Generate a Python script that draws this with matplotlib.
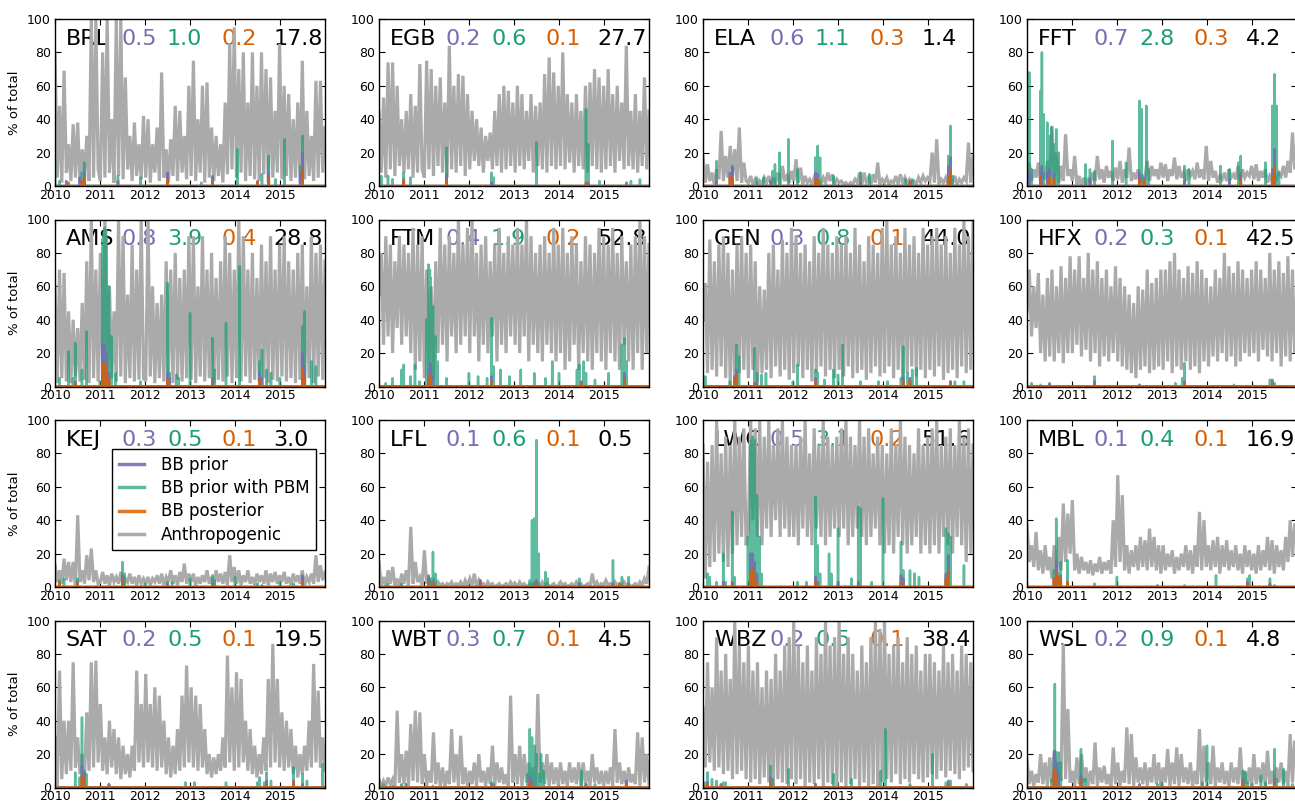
import numpy as np
import matplotlib
matplotlib.use("Agg")
import matplotlib.pyplot as plt
from matplotlib.lines import Line2D

# ---------------- data ----------------
stations = ["BRL", "EGB", "ELA", "FFT", "AMS", "FTM", "GEN", "HFX",
            "KEJ", "LFL", "LWC", "MBL", "SAT", "WBT", "WBZ", "WSL"]
prior_pct = [0.5, 0.2, 0.6, 0.7, 0.8, 0.4, 0.3, 0.2, 0.3, 0.1, 0.5, 0.1, 0.2, 0.3, 0.2, 0.2]
pbm_pct = [1.0, 0.6, 1.1, 2.8, 3.9, 1.9, 0.8, 0.3, 0.5, 0.6, 3.1, 0.4, 0.5, 0.7, 0.5, 0.9]
post_pct = [0.2, 0.1, 0.3, 0.3, 0.4, 0.2, 0.1, 0.1, 0.1, 0.1, 0.2, 0.1, 0.1, 0.1, 0.1, 0.1]
anthro_pct = [17.8, 27.7, 1.4, 4.2, 28.8, 52.8, 44.0, 42.5, 3.0, 0.5, 51.6, 16.9, 19.5, 4.5, 38.4, 4.8]
year_ticks = [2010, 2011, 2012, 2013, 2014, 2015]
legend_labels = ["BB prior", "BB prior with PBM", "BB posterior", "Anthropogenic"]

# anthropogenic share (% of total), 20 readings per year, 2010-2015
BRL_anthro = [80, 5, 48, 2, 69, 8, 25, 3, 37, 5, 38, 2, 22, 4, 30, 3, 100, 5, 100, 10,
              3, 80, 5, 100, 8, 40, 2, 100, 6, 100, 4, 65, 10, 30, 3, 38, 6, 25, 4, 42,
              5, 40, 2, 25, 8, 35, 3, 68, 5, 22, 2, 28, 6, 48, 3, 45, 8, 30, 4, 60,
              6, 75, 3, 40, 8, 60, 2, 62, 5, 35, 3, 30, 6, 25, 2, 50, 7, 85, 10, 95,
              5, 70, 8, 80, 3, 50, 6, 80, 4, 60, 3, 80, 7, 70, 2, 65, 5, 45, 8, 85,
              4, 60, 6, 55, 3, 40, 5, 50, 2, 75, 4, 45, 6, 30, 3, 63, 5, 63, 8, 35]
EGB_anthro = [45, 8, 53, 5, 74, 10, 74, 6, 60, 12, 40, 8, 45, 10, 55, 5, 48, 8, 73, 10,
              5, 75, 10, 70, 6, 60, 12, 65, 8, 50, 5, 84, 10, 60, 8, 67, 12, 66, 6, 55,
              10, 45, 15, 40, 12, 35, 8, 30, 15, 32, 10, 45, 12, 55, 8, 60, 10, 57, 12, 50,
              8, 60, 12, 55, 10, 45, 15, 55, 8, 48, 12, 50, 10, 67, 8, 77, 12, 68, 10, 60,
              12, 80, 10, 55, 14, 50, 8, 55, 12, 45, 10, 60, 8, 62, 12, 70, 10, 65, 8, 60,
              10, 70, 12, 55, 8, 60, 15, 50, 10, 84, 12, 45, 10, 55, 8, 45, 12, 65, 10, 45]
ELA_anthro = [18, 2, 13, 3, 8, 1, 10, 4, 33, 3, 18, 5, 24, 6, 22, 3, 35, 2, 14, 3,
              2, 6, 1, 4, 0, 3, 1, 5, 2, 6, 1, 4, 2, 8, 1, 12, 3, 6, 2, 9,
              3, 16, 2, 11, 1, 6, 2, 4, 1, 5, 2, 3, 1, 5, 2, 8, 3, 7, 1, 4,
              2, 3, 1, 2, 0, 2, 1, 4, 2, 8, 1, 8, 2, 5, 1, 7, 2, 14, 1, 4,
              2, 5, 1, 3, 2, 6, 1, 7, 2, 5, 1, 4, 2, 3, 1, 5, 2, 6, 3, 5,
              3, 20, 2, 28, 1, 4, 2, 5, 1, 3, 2, 6, 1, 4, 2, 5, 3, 26, 2, 18]
FFT_anthro = [2, 14, 3, 10, 5, 14, 2, 8, 4, 15, 3, 36, 5, 20, 2, 12, 3, 31, 6, 10,
              3, 18, 1, 6, 0, 5, 1, 4, 2, 8, 3, 18, 4, 10, 2, 12, 5, 9, 3, 11,
              4, 15, 2, 10, 5, 23, 3, 8, 4, 10, 2, 6, 5, 15, 3, 12, 6, 10, 4, 14,
              5, 13, 3, 10, 6, 17, 4, 12, 5, 8, 3, 10, 6, 9, 4, 14, 5, 10, 4, 24,
              3, 15, 5, 9, 2, 6, 4, 8, 3, 10, 5, 7, 4, 12, 3, 10, 5, 8, 6, 12,
              4, 13, 3, 9, 5, 10, 2, 6, 3, 5, 4, 8, 6, 12, 5, 15, 8, 32, 10, 27]
AMS_anthro = [60, 2, 70, 5, 68, 3, 45, 2, 40, 6, 35, 3, 50, 4, 75, 2, 100, 5, 70, 3,
              80, 4, 100, 2, 60, 5, 45, 3, 100, 6, 90, 2, 55, 5, 85, 3, 70, 4, 100, 5,
              3, 100, 6, 60, 2, 50, 5, 55, 3, 75, 6, 70, 2, 80, 4, 65, 3, 70, 5, 90,
              4, 90, 2, 60, 6, 90, 3, 70, 5, 80, 2, 65, 4, 75, 3, 90, 6, 80, 2, 70,
              5, 100, 3, 90, 6, 70, 2, 80, 4, 65, 3, 85, 5, 75, 2, 90, 4, 70, 3, 85,
              6, 90, 3, 75, 5, 70, 2, 80, 4, 85, 3, 60, 5, 90, 2, 80, 6, 85, 4, 75]
FTM_anthro = [55, 80, 25, 90, 30, 85, 20, 75, 35, 90, 25, 85, 30, 80, 20, 95, 10, 85, 15, 90,
              5, 70, 10, 60, 5, 75, 20, 95, 25, 85, 15, 90, 30, 80, 20, 100, 25, 85, 30, 95,
              20, 100, 30, 80, 15, 85, 25, 90, 20, 75, 30, 85, 15, 95, 25, 80, 20, 90, 30, 85,
              25, 95, 20, 85, 30, 100, 15, 90, 25, 80, 20, 85, 15, 90, 25, 80, 20, 95, 15, 85,
              20, 95, 10, 80, 15, 90, 25, 85, 10, 75, 20, 90, 15, 85, 10, 80, 20, 95, 15, 90,
              10, 85, 20, 95, 15, 80, 10, 90, 25, 75, 15, 85, 10, 90, 20, 100, 10, 90, 20, 85]
GEN_anthro = [40, 62, 8, 88, 10, 75, 6, 85, 12, 90, 5, 80, 0, 70, 2, 85, 8, 90, 10, 80,
              5, 85, 10, 75, 3, 60, 8, 58, 10, 80, 5, 85, 12, 70, 6, 88, 10, 80, 4, 95,
              8, 90, 12, 80, 5, 85, 10, 75, 3, 90, 8, 80, 12, 95, 6, 85, 10, 80, 5, 90,
              10, 85, 6, 90, 12, 80, 5, 95, 8, 85, 10, 75, 4, 90, 8, 85, 12, 80, 6, 95,
              8, 100, 12, 85, 5, 90, 10, 80, 3, 95, 8, 85, 12, 90, 6, 80, 10, 95, 5, 85,
              10, 90, 6, 95, 12, 85, 4, 90, 8, 80, 10, 95, 5, 85, 12, 100, 8, 90, 10, 100]
HFX_anthro = [45, 70, 30, 60, 35, 68, 20, 55, 15, 65, 18, 70, 15, 60, 20, 72, 14, 65, 20, 78,
              20, 70, 25, 78, 18, 65, 22, 80, 15, 70, 20, 75, 12, 65, 18, 70, 15, 60, 20, 72,
              15, 65, 12, 60, 10, 55, 8, 50, 5, 60, 10, 58, 12, 70, 8, 62, 10, 65, 12, 70,
              10, 70, 15, 75, 8, 80, 12, 70, 10, 65, 15, 72, 10, 68, 12, 75, 8, 70, 15, 65,
              12, 60, 18, 70, 15, 65, 20, 80, 15, 72, 18, 68, 12, 75, 15, 70, 20, 65, 18, 70,
              20, 75, 15, 70, 22, 65, 18, 80, 15, 70, 20, 75, 12, 68, 18, 78, 15, 70, 20, 65]
KEJ_anthro = [13, 3, 10, 2, 17, 4, 15, 3, 15, 1, 43, 3, 10, 2, 19, 4, 23, 3, 10, 2,
              3, 9, 2, 7, 1, 8, 3, 6, 2, 9, 1, 5, 3, 8, 2, 6, 1, 7, 2, 5,
              2, 6, 1, 5, 3, 7, 2, 8, 1, 6, 3, 10, 2, 7, 1, 9, 3, 14, 2, 8,
              3, 8, 1, 6, 2, 7, 3, 10, 2, 6, 1, 10, 3, 8, 2, 9, 1, 19, 3, 12,
              2, 10, 1, 7, 3, 10, 2, 6, 1, 8, 3, 7, 2, 10, 1, 8, 3, 9, 2, 7,
              3, 9, 2, 6, 1, 8, 3, 7, 2, 10, 1, 6, 3, 8, 2, 19, 3, 13, 4, 9]
LFL_anthro = [15, 1, 6, 0, 10, 2, 12, 1, 5, 0, 8, 2, 10, 1, 36, 2, 15, 3, 6, 1,
              22, 2, 5, 1, 4, 0, 3, 1, 2, 0, 2, 1, 3, 0, 2, 1, 3, 0, 4, 1,
              5, 1, 8, 0, 4, 1, 2, 0, 3, 1, 2, 0, 1, 2, 0, 1, 2, 0, 3, 1,
              2, 0, 3, 1, 2, 0, 1, 2, 0, 1, 2, 0, 3, 1, 2, 0, 1, 2, 0, 1,
              3, 1, 2, 0, 1, 2, 0, 3, 1, 2, 0, 1, 2, 0, 8, 1, 3, 0, 2, 1,
              4, 1, 2, 0, 3, 1, 2, 0, 3, 1, 2, 0, 1, 2, 0, 3, 1, 5, 2, 12]
LWC_anthro = [85, 5, 75, 12, 85, 15, 100, 20, 80, 15, 90, 12, 85, 20, 100, 25, 90, 30, 95, 25,
              35, 100, 40, 95, 30, 100, 25, 90, 35, 100, 30, 85, 40, 95, 30, 100, 35, 90, 30, 85,
              30, 85, 25, 90, 35, 100, 30, 80, 25, 95, 35, 85, 30, 100, 25, 90, 30, 85, 35, 90,
              30, 95, 35, 100, 25, 90, 30, 85, 35, 100, 30, 90, 25, 95, 30, 80, 35, 90, 25, 85,
              20, 80, 25, 95, 20, 85, 30, 100, 25, 90, 20, 85, 25, 80, 30, 95, 20, 85, 25, 90,
              20, 95, 25, 100, 20, 85, 30, 90, 25, 95, 20, 85, 30, 100, 25, 90, 15, 95, 20, 85]
MBL_anthro = [37, 15, 25, 12, 33, 10, 22, 8, 25, 10, 18, 5, 25, 3, 30, 10, 50, 15, 44, 20,
              52, 10, 20, 8, 18, 10, 15, 8, 16, 7, 14, 9, 18, 8, 15, 10, 16, 8, 40, 12,
              67, 15, 55, 10, 25, 8, 22, 12, 25, 10, 30, 12, 28, 10, 35, 12, 30, 10, 25, 8,
              25, 10, 20, 12, 22, 8, 18, 10, 20, 12, 25, 10, 22, 8, 25, 12, 45, 10, 40, 12,
              25, 10, 28, 12, 30, 8, 25, 12, 28, 10, 22, 12, 25, 10, 20, 8, 25, 12, 22, 10,
              20, 8, 25, 10, 22, 12, 30, 10, 28, 8, 25, 12, 22, 10, 30, 15, 40, 18, 38, 30]
SAT_anthro = [30, 0, 70, 5, 40, 8, 40, 10, 75, 12, 30, 8, 20, 5, 45, 10, 75, 12, 76, 15,
              50, 10, 30, 8, 40, 12, 35, 8, 30, 5, 25, 8, 20, 6, 25, 10, 70, 15, 50, 12,
              68, 15, 50, 12, 60, 10, 55, 12, 40, 8, 30, 6, 25, 8, 35, 10, 55, 12, 73, 15,
              60, 12, 55, 10, 50, 12, 35, 8, 20, 6, 18, 8, 20, 10, 30, 12, 79, 15, 60, 10,
              69, 12, 65, 15, 40, 10, 35, 8, 25, 6, 20, 8, 30, 10, 65, 12, 86, 15, 65, 12,
              45, 10, 40, 12, 35, 8, 25, 6, 20, 8, 25, 10, 40, 12, 74, 15, 58, 12, 30, 10]
WBT_anthro = [5, 0, 4, 1, 6, 2, 5, 0, 46, 3, 20, 2, 22, 1, 38, 4, 46, 3, 45, 2,
              20, 1, 10, 3, 33, 2, 15, 1, 12, 0, 10, 2, 35, 3, 20, 1, 31, 2, 12, 1,
              10, 2, 15, 1, 20, 3, 10, 1, 12, 2, 25, 1, 15, 3, 12, 2, 8, 1, 55, 3,
              20, 2, 25, 1, 20, 3, 15, 2, 12, 1, 56, 3, 15, 2, 20, 1, 15, 2, 12, 1,
              15, 2, 10, 1, 15, 3, 12, 2, 15, 1, 15, 2, 10, 1, 20, 3, 12, 2, 10, 1,
              10, 2, 12, 1, 35, 3, 15, 2, 10, 1, 12, 3, 8, 2, 33, 1, 30, 3, 20, 2]
WBZ_anthro = [48, 12, 75, 15, 60, 10, 90, 12, 70, 8, 80, 10, 65, 5, 100, 8, 85, 10, 75, 5,
              85, 3, 70, 5, 75, 2, 60, 6, 70, 3, 65, 0, 80, 5, 70, 3, 85, 2, 90, 5,
              100, 2, 85, 5, 75, 0, 85, 3, 70, 2, 90, 5, 80, 0, 100, 3, 85, 2, 90, 0,
              100, 3, 80, 0, 90, 2, 80, 5, 70, 0, 85, 3, 75, 0, 90, 2, 100, 0, 95, 3,
              100, 5, 80, 3, 85, 8, 90, 2, 75, 5, 90, 3, 80, 8, 85, 5, 70, 3, 80, 6,
              80, 8, 75, 5, 70, 10, 85, 6, 75, 10, 80, 8, 70, 5, 85, 10, 80, 12, 75, 10]
WSL_anthro = [17, 2, 10, 1, 8, 3, 20, 2, 15, 1, 18, 3, 22, 2, 15, 4, 86, 5, 47, 3,
              10, 1, 18, 2, 20, 3, 12, 1, 10, 2, 27, 1, 12, 3, 13, 2, 8, 0, 24, 2,
              15, 1, 10, 3, 36, 2, 32, 1, 18, 3, 12, 2, 15, 1, 12, 3, 20, 2, 15, 1,
              12, 3, 23, 1, 15, 2, 24, 1, 20, 3, 12, 2, 15, 1, 10, 2, 35, 1, 25, 3,
              15, 2, 25, 1, 12, 3, 15, 2, 10, 1, 15, 3, 12, 2, 24, 1, 10, 2, 12, 1,
              20, 2, 12, 3, 15, 1, 22, 2, 10, 1, 12, 3, 15, 2, 10, 1, 32, 3, 28, 5]

# biomass-burning episodes: (decimal year, % of total); zero elsewhere
BRL_pbm = [(2010.0, 15), (2010.1, 3), (2010.6, 8), (2010.65, 14), (2011.4, 6), (2011.9, 5),
           (2012.5, 7), (2013.25, 2), (2013.5, 6), (2014.05, 22), (2014.6, 7), (2014.75, 18),
           (2014.9, 4), (2015.1, 28), (2015.45, 12), (2015.5, 30)]
BRL_prior = [(2010.25, 3), (2010.55, 5), (2010.65, 8), (2011.4, 3), (2012.5, 8), (2013.5, 5),
             (2014.5, 3), (2014.75, 8), (2015.45, 8), (2015.5, 20)]
BRL_post = [(2010.3, 2), (2010.6, 3), (2010.65, 5), (2012.5, 4), (2013.5, 2), (2014.5, 2),
            (2014.75, 5), (2015.5, 10)]
EGB_pbm = [(2010.05, 6), (2010.2, 6), (2010.3, 4), (2010.55, 8), (2010.7, 5), (2011.5, 23),
           (2012.5, 8), (2012.55, 5), (2013.5, 26), (2014.6, 46), (2014.65, 25), (2014.9, 3),
           (2015.6, 3), (2015.8, 4)]
EGB_prior = [(2010.55, 4), (2011.5, 7), (2012.5, 2), (2014.65, 2), (2015.5, 2)]
EGB_post = [(2010.55, 3), (2011.5, 3), (2014.6, 2)]
ELA_pbm = [(2010.3, 15), (2010.65, 12), (2011.2, 5), (2011.35, 5), (2011.55, 9), (2011.6, 13),
           (2011.7, 20), (2011.9, 28), (2012.1, 10), (2012.5, 17), (2012.55, 24), (2012.6, 17),
           (2012.9, 6), (2013.5, 8), (2013.7, 7), (2014.5, 4), (2014.65, 4), (2015.45, 18),
           (2015.5, 36), (2015.55, 6)]
ELA_prior = [(2010.3, 3), (2010.6, 8), (2010.65, 11), (2011.5, 3), (2012.5, 8), (2012.55, 7),
             (2013.5, 2), (2014.6, 3), (2015.45, 12), (2015.5, 17)]
ELA_post = [(2010.6, 5), (2010.65, 5), (2012.5, 4), (2012.55, 4), (2014.6, 2), (2015.45, 5),
            (2015.5, 9)]
FFT_pbm = [(2010.05, 68), (2010.1, 10), (2010.3, 57), (2010.33, 80), (2010.37, 43), (2010.45, 38),
           (2010.5, 30), (2010.55, 35), (2010.6, 25), (2010.65, 34), (2010.7, 20), (2011.3, 13),
           (2011.4, 10), (2011.5, 9), (2011.9, 27), (2012.2, 14), (2012.5, 51), (2012.55, 46),
           (2012.65, 48), (2012.7, 10), (2013.5, 12), (2013.6, 10), (2014.3, 12), (2014.5, 10),
           (2014.7, 14), (2014.75, 18), (2015.3, 14), (2015.45, 48), (2015.5, 67), (2015.55, 48),
           (2015.6, 8)]
FFT_prior = [(2010.05, 8), (2010.33, 12), (2010.45, 8), (2010.5, 10), (2010.6, 7), (2011.4, 4),
             (2012.5, 8), (2012.6, 5), (2013.5, 3), (2014.5, 4), (2014.75, 7), (2015.45, 10),
             (2015.5, 22)]
FFT_post = [(2010.3, 5), (2010.5, 5), (2010.6, 4), (2012.5, 4), (2012.6, 3), (2014.75, 4),
            (2015.45, 6), (2015.5, 12)]
AMS_pbm = [(2010.1, 5), (2010.3, 21), (2010.4, 5), (2010.45, 26), (2010.6, 10), (2010.7, 33),
           (2011.0, 3), (2011.05, 88), (2011.08, 92), (2011.1, 95), (2011.13, 93), (2011.15, 90),
           (2011.2, 60), (2011.25, 30), (2011.35, 8), (2011.9, 3), (2012.5, 62), (2012.55, 8),
           (2012.7, 7), (2012.75, 5), (2013.0, 44), (2013.5, 29), (2013.55, 10), (2013.8, 38),
           (2014.1, 72), (2014.55, 15), (2014.6, 22), (2014.7, 10), (2014.8, 8), (2015.0, 5),
           (2015.5, 36), (2015.55, 45), (2015.7, 15), (2015.8, 12)]
AMS_prior = [(2010.45, 3), (2011.05, 25), (2011.1, 25), (2011.15, 20), (2011.2, 8), (2012.5, 8),
             (2012.55, 5), (2013.5, 5), (2014.55, 8), (2014.6, 5), (2015.5, 20), (2015.55, 12)]
AMS_post = [(2010.45, 2), (2011.05, 13), (2011.1, 14), (2011.15, 12), (2011.2, 5), (2012.5, 4),
            (2013.5, 2), (2014.55, 4), (2015.5, 11), (2015.55, 6)]
FTM_pbm = [(2010.15, 2), (2010.3, 5), (2010.5, 10), (2010.55, 13), (2010.7, 6), (2010.8, 13),
           (2010.9, 3), (2011.05, 40), (2011.1, 73), (2011.13, 70), (2011.15, 65), (2011.2, 48),
           (2011.25, 30), (2011.3, 15), (2011.5, 5), (2012.0, 8), (2012.2, 6), (2012.4, 5),
           (2012.5, 41), (2012.55, 12), (2012.7, 10), (2012.9, 6), (2013.15, 10), (2013.45, 8),
           (2013.7, 5), (2013.85, 15), (2014.0, 8), (2014.4, 10), (2014.45, 13), (2014.55, 15),
           (2014.6, 8), (2014.8, 4), (2015.1, 8), (2015.4, 25), (2015.45, 29), (2015.5, 15)]
FTM_prior = [(2011.1, 10), (2011.15, 14), (2011.2, 6), (2012.5, 6), (2014.5, 3), (2015.45, 8)]
FTM_post = [(2011.1, 5), (2011.15, 7), (2012.5, 3), (2014.5, 2), (2015.45, 4)]
GEN_pbm = [(2010.05, 6), (2010.6, 3), (2010.7, 6), (2010.75, 25), (2010.8, 18), (2011.15, 23),
           (2011.2, 8), (2011.3, 7), (2011.4, 8), (2012.0, 3), (2012.1, 13), (2012.5, 10),
           (2012.55, 8), (2012.7, 4), (2012.9, 10), (2013.0, 7), (2013.1, 25), (2013.5, 3),
           (2013.9, 3), (2014.1, 3), (2014.4, 5), (2014.45, 24), (2014.55, 8), (2014.65, 10),
           (2014.75, 11), (2015.5, 3), (2015.6, 3), (2015.8, 3)]
GEN_prior = [(2010.7, 6), (2010.75, 10), (2011.2, 3), (2012.5, 5), (2014.45, 5), (2014.6, 5),
             (2015.5, 3)]
GEN_post = [(2010.7, 5), (2010.75, 7), (2011.15, 2), (2012.5, 3), (2014.45, 3), (2014.6, 3),
            (2015.5, 2)]
HFX_pbm = [(2010.1, 2), (2010.3, 1), (2010.5, 2), (2011.5, 6), (2012.5, 1), (2013.3, 2),
           (2013.45, 5), (2013.5, 14), (2014.6, 1), (2015.4, 4), (2015.5, 2)]
HFX_prior = [(2010.5, 1.5), (2011.5, 3), (2012.5, 1), (2013.5, 3), (2015.45, 4)]
HFX_post = [(2011.5, 1), (2013.5, 1.5), (2015.45, 2)]
KEJ_pbm = [(2010.1, 4), (2010.2, 5), (2010.5, 5), (2011.5, 15), (2011.55, 8), (2012.0, 2),
           (2012.5, 3), (2012.6, 3), (2013.0, 5), (2013.5, 7), (2013.55, 4), (2014.0, 6),
           (2014.5, 2), (2015.0, 3), (2015.3, 2), (2015.5, 7)]
KEJ_prior = [(2010.1, 2), (2010.5, 3), (2011.5, 7), (2012.5, 2), (2013.5, 2), (2014.6, 1),
             (2015.5, 6)]
KEJ_post = [(2010.1, 3), (2010.5, 2), (2011.5, 4), (2012.5, 1), (2013.5, 1), (2015.5, 3)]
LFL_pbm = [(2010.2, 2), (2010.5, 2), (2011.1, 7), (2011.15, 5), (2011.2, 21), (2011.25, 8),
           (2012.25, 4), (2013.35, 4), (2013.4, 40), (2013.45, 41), (2013.5, 88), (2013.55, 20),
           (2013.7, 9), (2013.75, 5), (2014.45, 5), (2015.2, 16), (2015.4, 6), (2015.55, 6)]
LFL_prior = [(2010.5, 1), (2011.1, 5), (2011.2, 3), (2012.25, 4), (2013.45, 3), (2013.5, 4),
             (2014.45, 2), (2015.2, 2)]
LFL_post = [(2011.1, 3), (2011.2, 2), (2012.25, 2), (2013.5, 2), (2015.35, 2), (2015.55, 1)]
LWC_pbm = [(2010.1, 8), (2010.15, 6), (2010.3, 3), (2010.45, 20), (2010.5, 3), (2010.65, 45),
           (2010.7, 6), (2011.0, 30), (2011.05, 85), (2011.08, 88), (2011.1, 90), (2011.15, 88),
           (2011.2, 55), (2011.25, 30), (2011.3, 8), (2012.1, 3), (2012.3, 3), (2012.5, 54),
           (2012.55, 25), (2012.6, 8), (2012.8, 20), (2012.85, 8), (2013.0, 35), (2013.3, 5),
           (2013.45, 48), (2013.5, 47), (2013.75, 3), (2014.0, 53), (2014.4, 27), (2014.45, 10),
           (2014.6, 10), (2014.7, 8), (2014.8, 6), (2015.4, 35), (2015.45, 32), (2015.5, 30),
           (2015.8, 13)]
LWC_prior = [(2010.45, 3), (2010.65, 3), (2011.05, 20), (2011.1, 20), (2011.15, 15), (2011.2, 8),
             (2012.5, 6), (2012.55, 3), (2013.0, 3), (2013.45, 3), (2014.4, 7), (2014.45, 5),
             (2015.4, 8), (2015.45, 19)]
LWC_post = [(2010.65, 2), (2011.05, 9), (2011.1, 11), (2011.15, 8), (2011.2, 3), (2012.5, 3),
            (2014.4, 3), (2015.4, 5), (2015.45, 9)]
MBL_pbm = [(2010.0, 2), (2010.6, 10), (2010.65, 41), (2010.7, 8), (2010.75, 15), (2010.9, 16),
           (2011.5, 2), (2012.0, 6), (2013.5, 1), (2014.2, 7), (2014.9, 5), (2014.95, 7),
           (2015.4, 5), (2015.5, 1)]
MBL_prior = [(2010.6, 5), (2010.65, 15), (2010.75, 7), (2010.9, 3), (2012.9, 1), (2014.9, 3),
             (2015.4, 2)]
MBL_post = [(2010.6, 5), (2010.65, 8), (2010.7, 6), (2010.75, 5), (2010.9, 3), (2014.9, 2),
            (2015.4, 1)]
SAT_pbm = [(2010.45, 9), (2010.55, 6), (2010.6, 42), (2010.65, 10), (2010.7, 8), (2011.2, 2),
           (2012.9, 3), (2013.1, 3), (2013.8, 3), (2014.5, 3), (2014.55, 6), (2014.65, 3),
           (2014.7, 9), (2014.8, 4), (2015.3, 12), (2015.5, 8), (2015.6, 4), (2015.95, 14)]
SAT_prior = [(2010.6, 13), (2010.65, 8), (2011.2, 2), (2014.7, 4), (2015.3, 4), (2015.5, 2)]
SAT_post = [(2010.6, 7), (2010.65, 5), (2014.7, 2), (2015.3, 3)]
WBT_pbm = [(2010.1, 2), (2010.3, 1), (2010.5, 2), (2011.2, 1), (2012.5, 3), (2012.55, 2),
           (2013.3, 8), (2013.35, 35), (2013.4, 30), (2013.45, 25), (2013.5, 20), (2013.55, 8),
           (2013.6, 20), (2013.65, 10), (2014.5, 10), (2014.6, 2), (2014.8, 2), (2015.5, 4)]
WBT_prior = [(2010.5, 1), (2010.6, 2), (2012.5, 2), (2013.35, 6), (2013.4, 4), (2014.6, 2),
             (2015.5, 4)]
WBT_post = [(2010.0, 3), (2012.5, 1), (2013.35, 3), (2014.6, 1), (2015.5, 2)]
WBZ_pbm = [(2010.05, 3), (2010.1, 9), (2010.2, 5), (2010.3, 4), (2010.45, 3), (2010.5, 3),
           (2011.5, 13), (2011.55, 5), (2011.9, 11), (2012.5, 2), (2012.9, 8), (2013.3, 5),
           (2013.95, 10), (2014.05, 35), (2014.6, 2), (2015.1, 20), (2015.4, 3), (2015.5, 4),
           (2015.85, 2)]
WBZ_prior = [(2010.1, 3), (2010.4, 2), (2011.5, 6), (2012.5, 2), (2014.6, 1), (2015.45, 4)]
WBZ_post = [(2010.1, 2), (2010.4, 1), (2011.5, 3), (2012.5, 1), (2015.45, 2)]
WSL_pbm = [(2010.55, 5), (2010.6, 18), (2010.62, 62), (2010.65, 21), (2010.7, 21), (2010.75, 15),
           (2011.2, 23), (2011.25, 5), (2011.3, 5), (2012.9, 2), (2013.0, 3), (2013.9, 3),
           (2014.0, 25), (2014.8, 10), (2014.85, 9), (2014.9, 3), (2015.0, 2), (2015.2, 7),
           (2015.3, 3), (2015.5, 23), (2015.55, 5), (2015.7, 11), (2015.9, 2)]
WSL_prior = [(2010.6, 10), (2010.62, 22), (2010.65, 15), (2010.7, 8), (2011.2, 7), (2012.5, 2),
             (2013.0, 1), (2014.0, 1), (2014.8, 5), (2015.5, 5)]
WSL_post = [(2010.6, 8), (2010.62, 11), (2010.65, 8), (2011.2, 4), (2014.8, 3), (2015.5, 3)]

anthro_series = [BRL_anthro, EGB_anthro, ELA_anthro, FFT_anthro, AMS_anthro, FTM_anthro,
                 GEN_anthro, HFX_anthro, KEJ_anthro, LFL_anthro, LWC_anthro, MBL_anthro,
                 SAT_anthro, WBT_anthro, WBZ_anthro, WSL_anthro]
pbm_series = [BRL_pbm, EGB_pbm, ELA_pbm, FFT_pbm, AMS_pbm, FTM_pbm, GEN_pbm, HFX_pbm,
              KEJ_pbm, LFL_pbm, LWC_pbm, MBL_pbm, SAT_pbm, WBT_pbm, WBZ_pbm, WSL_pbm]
prior_series = [BRL_prior, EGB_prior, ELA_prior, FFT_prior, AMS_prior, FTM_prior, GEN_prior,
                HFX_prior, KEJ_prior, LFL_prior, LWC_prior, MBL_prior, SAT_prior, WBT_prior,
                WBZ_prior, WSL_prior]
post_series = [BRL_post, EGB_post, ELA_post, FFT_post, AMS_post, FTM_post, GEN_post, HFX_post,
               KEJ_post, LFL_post, LWC_post, MBL_post, SAT_post, WBT_post, WBZ_post, WSL_post]

# ---------------- style ----------------
C_PRIOR, C_PBM, C_POST, C_ANTH = "#7570b3", "#1b9e77", "#d95f02", "#aaaaaa"
A_PRIOR, A_PBM, A_POST = 0.9, 0.7, 0.85

plt.rcParams.update({
    "font.family": "DejaVu Sans",
    "xtick.direction": "in", "ytick.direction": "in",
    "xtick.top": True, "ytick.right": True,
    "xtick.major.size": 4, "ytick.major.size": 4,
    "xtick.major.pad": 2, "ytick.major.pad": 3,
    "xtick.labelsize": 9, "ytick.labelsize": 9,
    "axes.linewidth": 1.0,
})

W, H = 1295, 806
fig = plt.figure(figsize=(W / 100, H / 100), dpi=100)
lefts = [55, 379, 703, 1027]
tops = [19, 219.5, 420, 620.5]
aw, ah = 270, 167

days = np.arange(0, 6 * 365.25) / 365.25 + 2010


def daily(pairs):
    y = np.zeros(len(days))
    for t, v in pairs:
        i = int(round((t - 2010) * 365.25))
        y[i] = max(y[i], v)
    return y


text_x = [0.04, 0.245, 0.415, 0.615, 0.81]
for k, name in enumerate(stations):
    r, c = divmod(k, 4)
    ax = fig.add_axes([lefts[c] / W, 1 - (tops[r] + ah) / H, aw / W, ah / H])
    an = anthro_series[k]
    ax.plot(np.linspace(2010, 2016, len(an)), an, color=C_ANTH, lw=2.3,
            solid_joinstyle="miter", zorder=2)
    ax.plot(days, daily(pbm_series[k]), color=C_PBM, alpha=A_PBM, lw=1.8, zorder=2.1)
    ax.plot(days, daily(prior_series[k]), color=C_PRIOR, alpha=A_PRIOR, lw=1.8, zorder=2.2)
    ax.plot(days, daily(post_series[k]), color=C_POST, alpha=A_POST, lw=1.8, zorder=2.3)
    ax.set_xlim(2010, 2016)
    ax.set_ylim(0, 100)
    ax.set_xticks(year_ticks)
    ax.set_xticklabels([str(y) for y in year_ticks])
    ax.set_yticks([0, 20, 40, 60, 80, 100])
    if c == 0:
        ax.set_ylabel("% of total", fontsize=9.5)
    labels = [name, "%.1f" % prior_pct[k], "%.1f" % pbm_pct[k], "%.1f" % post_pct[k],
              "%.1f" % anthro_pct[k]]
    cols = ["black", C_PRIOR, C_PBM, C_POST, "black"]
    for x, s, col in zip(text_x, labels, cols):
        ax.text(x, 0.845, s, transform=ax.transAxes, fontsize=16, color=col,
                va="baseline", ha="left", zorder=1)
    if name == "KEJ":
        handles = [Line2D([], [], color=C_PRIOR, alpha=A_PRIOR, lw=2.5),
                   Line2D([], [], color=C_PBM, alpha=A_PBM, lw=2.5),
                   Line2D([], [], color=C_POST, alpha=A_POST, lw=2.5),
                   Line2D([], [], color=C_ANTH, lw=2.5)]
        leg = ax.legend(handles, legend_labels, loc="upper right",
                        bbox_to_anchor=(0.967, 0.826), borderaxespad=0,
                        fontsize=12, frameon=True,
                        fancybox=False, framealpha=1, edgecolor="black",
                        handlelength=1.5, handletextpad=1.0, labelspacing=0.32,
                        borderpad=0.4)
        leg.get_frame().set_linewidth(1.0)
        leg.set_zorder(5)

fig.savefig("out.png", dpi=100)
